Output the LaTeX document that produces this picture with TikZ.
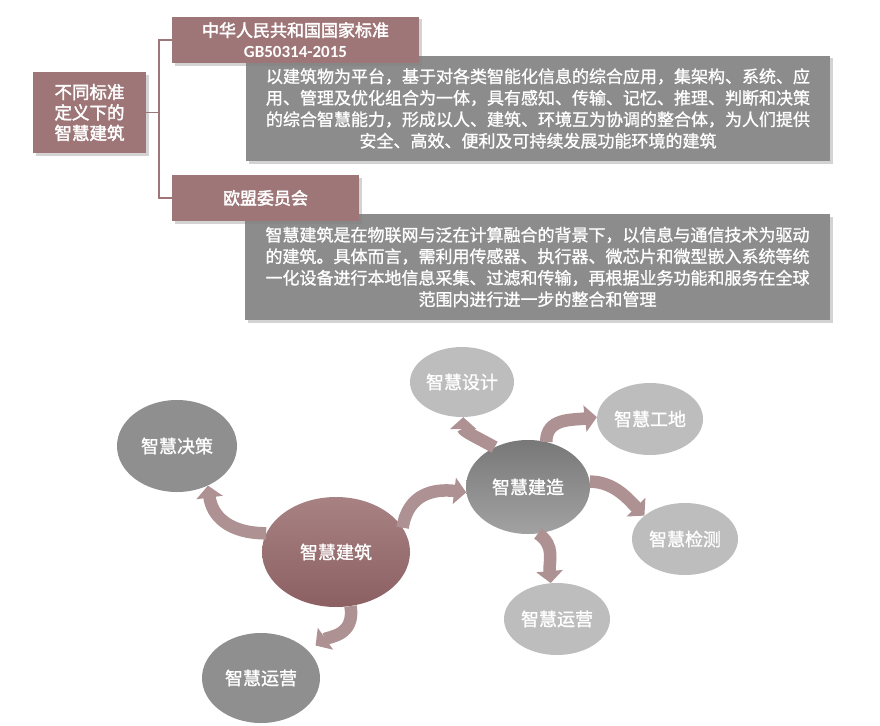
\documentclass[tikz,border=0pt]{standalone}
\usepackage{fontspec}
\setmainfont{Noto Sans CJK SC}
\newfontfamily\latfont{Carlito}
\newfontfamily\hdfont[FakeBold=2.2]{Noto Sans CJK SC}
\newfontfamily\bdfont[FakeBold=1.2]{Noto Sans CJK SC}
\usetikzlibrary{shapes.geometric,arrows.meta,shadows}
\definecolor{rose}{RGB}{158,118,119}
\definecolor{boxgray}{RGB}{140,140,140}
\definecolor{darkell}{RGB}{143,143,143}
\definecolor{lightell}{RGB}{189,189,189}
\definecolor{arrowc}{RGB}{174,145,147}
\definecolor{roseTop}{RGB}{168,130,131}
\definecolor{roseBot}{RGB}{140,96,99}
\definecolor{grayTop}{RGB}{120,120,120}
\definecolor{grayBot}{RGB}{162,162,162}
\tikzset{
  shadowed/.style={drop shadow={opacity=0.35,shadow xshift=2.5pt,shadow yshift=-2.5pt}},
  rosebox/.style={rectangle,fill=rose,text=white,inner sep=0pt,align=center,shadowed},
  graybox/.style={rectangle,fill=boxgray,text=white,inner sep=0pt,align=center,shadowed,
    font=\bdfont\fontsize{17}{21.5}\selectfont},
  conn/.style={draw=rose,line width=1.5pt},
  ell/.style={ellipse,inner sep=0pt,text=white,font=\bdfont\fontsize{18}{20}\selectfont},
  bigarr/.style={draw=arrowc,line width=12.5pt,-{Triangle[width=26pt,length=12pt]}},
}
\begin{document}
\begin{tikzpicture}[x=1pt,y=-1pt]
\useasboundingbox (0,0) rectangle (880,725);
% description boxes
\node[graybox,minimum width=584pt,minimum height=105pt] (d1) at (538,108.5)
 {以建筑物为平台，基于对各类智能化信息的综合应用，集架构、系统、应\\
  用、管理及优化组合为一体，具有感知、传输、记忆、推理、判断和决策\\
  的综合智慧能力，形成以人、建筑、环境互为协调的整合体，为人们提供\\
  安全、高效、便利及可持续发展功能环境的建筑};
\node[graybox,minimum width=585pt,minimum height=106pt] (d2) at (537.5,267)
 {智慧建筑是在物联网与泛在计算融合的背景下，以信息与通信技术为驱动\\
  的建筑。具体而言，需利用传感器、执行器、微芯片和微型嵌入系统等统\\
  一化设备进行本地信息采集、过滤和传输，再根据业务功能和服务在全球\\
  范围内进行进一步的整合和管理};
% headers
\node[rosebox,minimum width=247pt,minimum height=46pt,font=\hdfont\fontsize{17}{21}\selectfont] (h1) at (295.5,40)
 {中华人民共和国国家标准\\{\latfont\bfseries GB50314-2015}};
\node[rosebox,minimum width=187pt,minimum height=46pt,font=\hdfont\fontsize{17}{21}\selectfont] (h2) at (265.5,198)
 {欧盟委员会};
\node[rosebox,minimum width=113pt,minimum height=81pt,font=\hdfont\fontsize{17.5}{20.5}\selectfont] (lb) at (89.5,112.5)
 {不同标准\\定义下的\\智慧建筑};
% tree connector
\draw[conn] (lb.east) -- ++(13,0) coordinate (jn);
\draw[conn] (h1.west) -| (jn) |- (h2.west);
% ellipses
\node[ell,fill=darkell,minimum width=120pt,minimum height=92pt] (jc) at (177,446) {智慧决策};
\node[ell,top color=roseTop,bottom color=roseBot,minimum width=148pt,minimum height=110pt] (jz) at (336,552) {智慧建筑};
\node[ell,fill=darkell,minimum width=118pt,minimum height=90pt] (yy1) at (261,678) {智慧运营};
\node[ell,fill=lightell,minimum width=104pt,minimum height=70pt] (sj) at (462,382) {智慧设计};
\node[ell,fill=lightell,minimum width=106pt,minimum height=72pt] (gd) at (650,419) {智慧工地};
\node[ell,top color=grayTop,bottom color=grayBot,minimum width=124pt,minimum height=94pt] (jzz) at (528,487) {智慧建造};
\node[ell,fill=lightell,minimum width=106pt,minimum height=72pt] (jc2) at (685,539) {智慧检测};
\node[ell,fill=lightell,minimum width=106pt,minimum height=72pt] (yy2) at (557,619) {智慧运营};
% curved block arrows
\draw[bigarr] (jz.165) .. controls +(-38,0) and +(4,30) .. (jc.-52);
\draw[bigarr,shorten >=9pt] (jz.-75) .. controls +(5,30) and +(20,-14) .. (yy1.30);
\draw[bigarr] (jz.20) .. controls +(5,-34) and +(-32,-4) .. (jzz.185);
\draw[bigarr] (jzz.130) .. controls +(-18,-10) and +(0,14) .. (sj.-88);
\draw[bigarr] (jzz.68) .. controls +(0,-24) and +(-25,3) .. (gd.178);
\draw[bigarr] (jzz.5) .. controls +(25,0) and +(-15,-15) .. (jc2.150);
\draw[bigarr] (jzz.-78) .. controls +(18,12) and +(-2,-22) .. (yy2.100);
\end{tikzpicture}
\end{document}
